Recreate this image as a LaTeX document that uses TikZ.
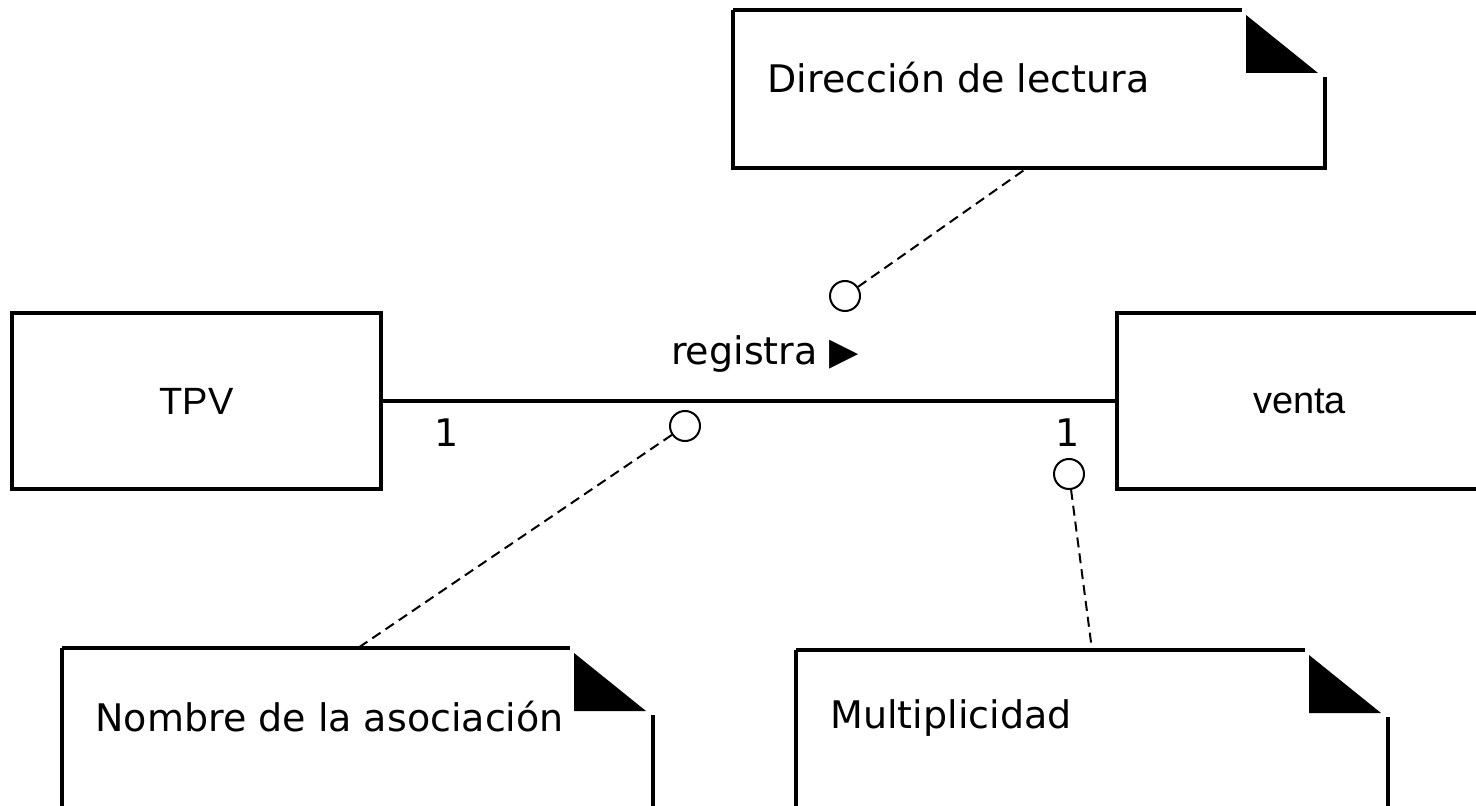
\documentclass[tikz,border=0pt]{standalone}
\usepackage{fontspec}
\usetikzlibrary{positioning}
\newfontfamily\notafont{DejaVu Sans}
\newfontfamily\clasefont{Liberation Sans}
\tikzstyle{clase}=[rectangle,draw,line width=2pt,minimum height=88pt,inner sep=0pt,font=\clasefont\fontsize{19}{23}\selectfont]
\tikzstyle{assoc}=[draw,line width=2pt]
\tikzstyle{etiq}=[inner sep=0pt,font=\notafont\fontsize{19}{23}\selectfont]
\tikzstyle{ancla}=[circle,draw,line width=1pt,fill=white,minimum size=15pt,inner sep=0pt]
\tikzstyle{punteado}=[draw,line width=1pt,dash pattern=on 5pt off 3pt]
\tikzstyle{nota}=[line width=2pt]
% nota UML: izquierda, arriba, derecha, abajo
\newcommand{\notaUML}[4]{%
	\draw[nota] (#1,#2) -- ({#3-83},#2);
	\draw[nota] (#3,{#2+67}) -- (#3,#4) -- (#1,#4) -- (#1,#2);
	\fill ({#3-79},{#2+5}) -- ({#3-79},{#2+63}) -- ({#3-7},{#2+63}) -- cycle;
}

\begin{document}
\begin{tikzpicture}[x=0.5pt,y=-0.5pt]
	\useasboundingbox (0,0) rectangle (1476,806);
	\clip (0,0) rectangle (1476,806);
	
	% clases
	\node[clase,minimum width=184.5pt] (tpv) at (196.5,401) {TPV};
	\node[clase,minimum width=182.5pt] (venta) at (1299.5,401) {venta};
	\draw[assoc] (tpv.east) -- (venta.west);
	
	\node[etiq] (m1) at (447,433) {1};
	\node[etiq] (m2) at (1068,433) {1};
	\node[etiq] (nombre) at (765,354) {registra ▶};
	
	% notas
	\notaUML{733}{10}{1325}{168}
	\notaUML{62}{648}{653}{830}
	\notaUML{796}{650}{1388}{830}
	\node[etiq,anchor=west] (t1) at (767,78) {Dirección de lectura};
	\node[etiq,anchor=west] (t2) at (95,717) {Nombre de la asociación};
	\node[etiq,anchor=west] (t3) at (830,718) {Multiplicidad};
	\path (1027,168) coordinate (n1);
	\path (358,648) coordinate (n2);
	\path (1092,650) coordinate (n3);
	
	% anclas
	\foreach \pos/\name in {{(845,296)/c1},{(685,426)/c2},{(1069,474)/c3}}
	\node[ancla] (\name) at \pos {};
	\foreach \source/\dest in {c1/n1,c2/n2,c3/n3}
	\draw[punteado] (\source) -- (\dest);
\end{tikzpicture}
\end{document}
